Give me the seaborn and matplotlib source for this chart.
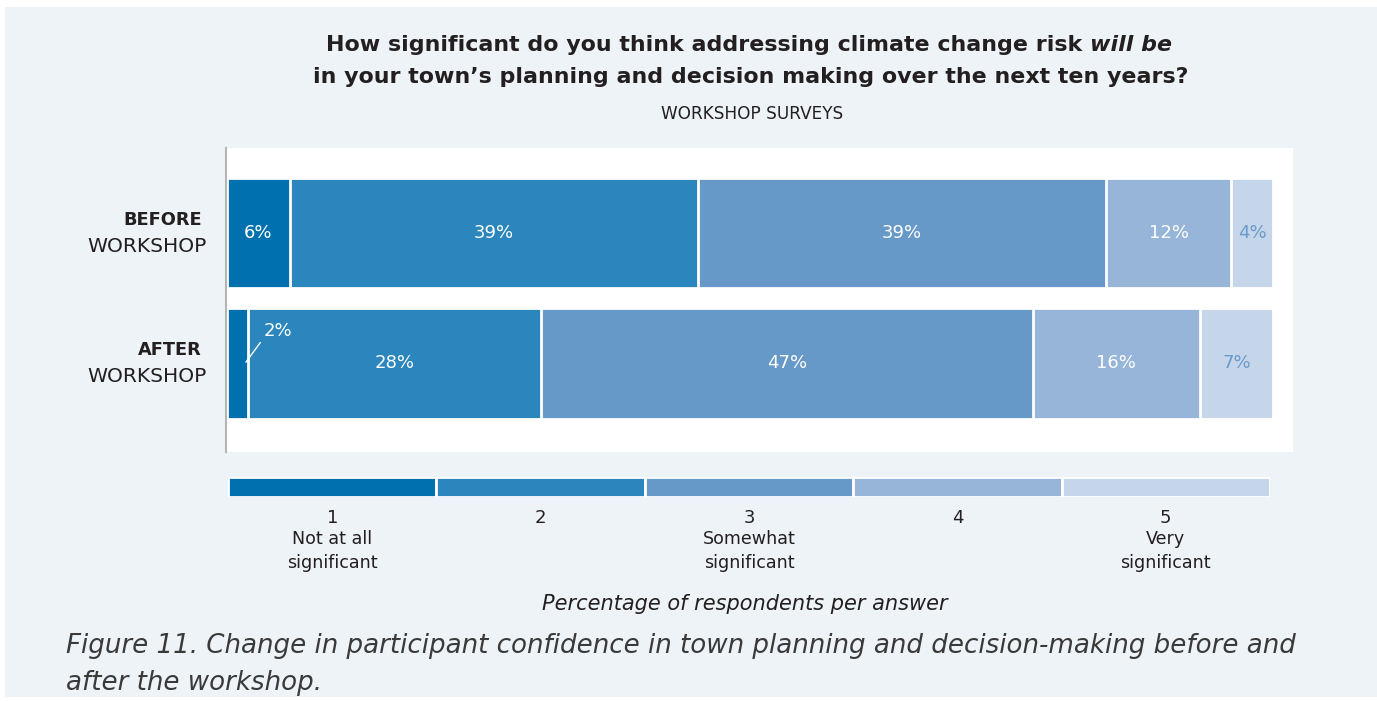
import matplotlib
matplotlib.use("Agg")
import matplotlib.pyplot as plt
import matplotlib.transforms as mtransforms
from matplotlib.patches import Rectangle
import numpy as np
import pandas as pd
import seaborn as sns

# ---- data -------------------------------------------------------------
groups = ["BEFORE", "AFTER"]
group_sub = ["WORKSHOP", "WORKSHOP"]
levels = ["1", "2", "3", "4", "5"]
level_desc = ["Not at all\nsignificant", "", "Somewhat\nsignificant", "", "Very\nsignificant"]
before = [6, 39, 39, 12, 4]
after = [2, 28, 47, 16, 7]

colors = ["#0071ae", "#2a86bc", "#6699c8", "#96b5d9", "#c5d6eb"]
label_colors = ["white", "white", "white", "white", "#6a9bcb"]

sns.set_theme(style="white")
plt.rcParams["font.family"] = ["DejaVu Sans"]

W, H = 1377, 701
fig = plt.figure(figsize=(W / 100, H / 100), dpi=100)
fig.patch.set_facecolor("white")
# light panel behind everything
fig.patches.append(Rectangle((5 / W, 4 / H), 1 - 5 / W, 1 - 11 / H,
                             transform=fig.transFigure, facecolor="#eef3f8",
                             edgecolor="none", zorder=-10))

def fx(px):
    return px / W

def fy(py):
    return 1 - py / H

# ---- main stacked bar axes -------------------------------------------
ax = fig.add_axes([fx(226), fy(452), fx(1293) - fx(226), (452 - 148) / H])
ax.set_facecolor("white")

df = pd.DataFrame({"group": np.repeat(groups, len(levels)),
                   "level": levels * len(groups),
                   "pct": before + after})
df["cum"] = df.groupby("group")["pct"].cumsum()

# overplot cumulative totals from the widest segment down
for i in reversed(range(len(levels))):
    sub = df[df["level"] == levels[i]]
    sns.barplot(data=sub, x="cum", y="group", order=groups, orient="h",
                color=colors[i], saturation=1, width=0.846,
                edgecolor="white", linewidth=2, ax=ax)

ax.set_xlim(-0.1, 101.9)
ax.set_ylim(1.68, -0.654)
ax.set_xlabel("")
ax.set_ylabel("")
ax.set_xticks([])
ax.set_yticks([])
for s in ["top", "right", "bottom"]:
    ax.spines[s].set_visible(False)
ax.spines["left"].set_color("#b5b5b5")
ax.spines["left"].set_linewidth(1.5)

# segment value labels
for gi, g in enumerate(groups):
    sub = df[df["group"] == g].reset_index(drop=True)
    for i, row in sub.iterrows():
        mid = row["cum"] - row["pct"] / 2
        if row["pct"] < 3:
            ax.annotate(f"{row['pct']}%", xy=(row["cum"] - 0.2, gi - 0.01),
                        xytext=(row["cum"] + 1.5, gi - 0.25),
                        ha="left", va="center", fontsize=13,
                        color="white",
                        arrowprops=dict(arrowstyle="-", color="white", lw=1,
                                        shrinkA=0, shrinkB=0,
                                        relpos=(0.0, 0.1)))
        else:
            ax.text(mid, gi, f"{row['pct']}%", ha="center", va="center",
                    fontsize=13, color=label_colors[i])

# group labels
trans = mtransforms.blended_transform_factory(ax.transAxes, ax.transData)
for gi, (g, s) in enumerate(zip(groups, group_sub)):
    ax.text(-24 / 1067, gi - 0.1, g, transform=trans, ha="right", va="center",
            fontsize=12.8, fontweight="bold", color="#231f20")
    ax.text(-19 / 1067, gi + 0.1, s, transform=trans, ha="right", va="center",
            fontsize=14.6, color="#231f20")

# ---- colour key -------------------------------------------------------
kax = fig.add_axes([fx(228), fy(497), fx(1270) - fx(228), 20 / H])
key = pd.DataFrame({"level": levels, "v": [1] * len(levels)})
sns.barplot(data=key, x="level", y="v", hue="level", palette=colors,
            saturation=1, width=1.0, edgecolor="white", linewidth=2,
            legend=False, ax=kax)
kax.set_xlim(-0.5, 4.5)
kax.set_ylim(0, 1)
kax.axis("off")
for i, (lv, desc) in enumerate(zip(levels, level_desc)):
    kax.annotate(lv, xy=(i, 0), xycoords="data", xytext=(0, -21),
                 textcoords="offset pixels", ha="center", va="center",
                 fontsize=13, color="#231f20")
    if desc:
        kax.annotate(desc, xy=(i, 0), xycoords="data", xytext=(0, -54),
                     textcoords="offset pixels", ha="center", va="center",
                     fontsize=12.6, color="#231f20", linespacing=1.45)

fig.text(fx(745), fy(604), "Percentage of respondents per answer",
         ha="center", va="center", fontsize=15, style="italic", color="#231f20")

# ---- title ------------------------------------------------------------
renderer = fig.canvas.get_renderer()
t1 = fig.text(0, fy(45), "How significant do you think addressing climate change risk ",
              ha="left", va="center", fontsize=15.9, fontweight="bold", color="#231f20")
t2 = fig.text(0, fy(45), "will be", ha="left", va="center", fontsize=15.9,
              fontweight="bold", style="italic", color="#231f20")
w1 = t1.get_window_extent(renderer).width
w2 = t2.get_window_extent(renderer).width
x0 = 749.5 - (w1 + w2) / 2
t1.set_x(fx(x0))
t2.set_x(fx(x0 + w1))
fig.text(fx(751), fy(77), "in your town\u2019s planning and decision making over the next ten years?",
         ha="center", va="center", fontsize=15.9, fontweight="bold", color="#231f20")
fig.text(fx(752), fy(114), "WORKSHOP SURVEYS", ha="center", va="center",
         fontsize=12.2, color="#231f20")

# ---- caption ----------------------------------------------------------
fig.text(fx(66), fy(646),
         "Figure 11. Change in participant confidence in town planning and decision-making before and",
         ha="left", va="center", fontsize=18.8, style="italic", color="#3a3a3a")
fig.text(fx(66), fy(683), "after the workshop.", ha="left", va="center",
         fontsize=18.8, style="italic", color="#3a3a3a")

fig.savefig("out.png", dpi=100, facecolor=fig.get_facecolor())
